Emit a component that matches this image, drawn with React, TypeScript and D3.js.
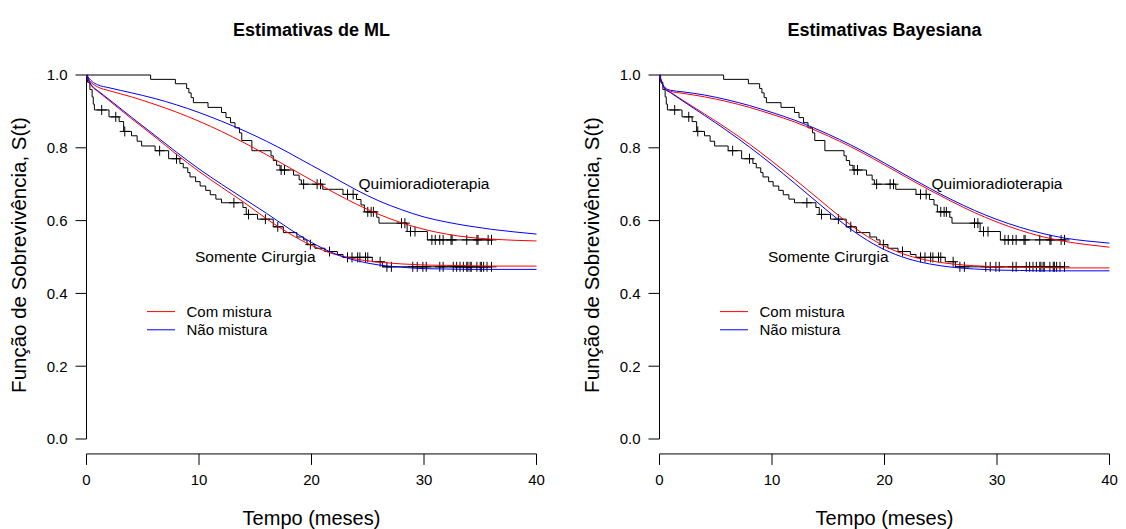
import React from "react";
import * as d3 from "d3";

const xTicks = [0, 10, 20, 30, 40];
const yTicks = [0, 0.2, 0.4, 0.6, 0.8, 1.0];
const fitTimes = [0, 0.25, 0.5, 1, 2, 4, 6, 8, 10, 12, 14, 16, 18, 20, 22, 24, 26, 28, 30, 32, 34, 36, 38, 40];

// ML fits
const mlQuimioMistura = [1, 0.985, 0.977, 0.967, 0.957, 0.94, 0.92, 0.898, 0.873, 0.845, 0.814, 0.781, 0.746, 0.711, 0.677, 0.645, 0.617, 0.594, 0.576, 0.563, 0.554, 0.549, 0.546, 0.544];
const mlQuimioNao = [1, 0.99, 0.982, 0.973, 0.965, 0.951, 0.936, 0.918, 0.897, 0.873, 0.847, 0.818, 0.786, 0.752, 0.718, 0.684, 0.654, 0.63, 0.61, 0.596, 0.585, 0.576, 0.569, 0.563];
const mlCirurgiaMistura = [1, 0.98, 0.968, 0.955, 0.93, 0.88, 0.832, 0.782, 0.735, 0.692, 0.65, 0.605, 0.565, 0.532, 0.508, 0.494, 0.486, 0.481, 0.478, 0.477, 0.476, 0.475, 0.475, 0.475];
const mlCirurgiaNao = [1, 0.982, 0.97, 0.957, 0.933, 0.884, 0.836, 0.788, 0.742, 0.7, 0.66, 0.62, 0.578, 0.54, 0.51, 0.49, 0.478, 0.472, 0.468, 0.467, 0.466, 0.466, 0.466, 0.466];

// Bayesian fits
const bayesQuimioMistura = [1, 0.975, 0.962, 0.955, 0.95, 0.94, 0.927, 0.911, 0.892, 0.871, 0.846, 0.818, 0.787, 0.753, 0.718, 0.684, 0.652, 0.622, 0.596, 0.574, 0.556, 0.543, 0.534, 0.527];
const bayesQuimioNao = [1, 0.977, 0.965, 0.958, 0.954, 0.945, 0.932, 0.916, 0.897, 0.876, 0.851, 0.823, 0.792, 0.758, 0.723, 0.689, 0.657, 0.628, 0.603, 0.582, 0.565, 0.552, 0.544, 0.538];
const bayesCirurgiaMistura = [1, 0.975, 0.962, 0.952, 0.932, 0.893, 0.853, 0.81, 0.763, 0.714, 0.663, 0.612, 0.566, 0.53, 0.505, 0.49, 0.481, 0.476, 0.473, 0.472, 0.471, 0.47, 0.47, 0.47];
const bayesCirurgiaNao = [1, 0.975, 0.962, 0.951, 0.93, 0.889, 0.847, 0.802, 0.754, 0.703, 0.651, 0.6, 0.555, 0.52, 0.496, 0.481, 0.472, 0.467, 0.464, 0.463, 0.462, 0.462, 0.462, 0.462];

// Kaplan-Meier: Quimioradioterapia
const quimioEventTimes = [5.7, 7.9, 8.9, 9.1, 9.3, 9.5, 10.8, 12.0, 12.4, 12.8, 13.2, 13.6, 13.8, 14.7, 16.4, 16.6, 16.9, 17.2, 18.4, 18.9, 19.1, 21.0, 22.8, 24.0, 24.4, 24.7, 25.8, 26.0, 28.5, 30.3];
const quimioSurv = [0.988, 0.976, 0.963, 0.951, 0.938, 0.924, 0.911, 0.897, 0.883, 0.869, 0.855, 0.841, 0.82, 0.792, 0.778, 0.765, 0.752, 0.739, 0.725, 0.712, 0.7, 0.686, 0.672, 0.658, 0.643, 0.624, 0.609, 0.593, 0.57, 0.547];
const quimioCensor = [17.3, 17.6, 19.3, 20.5, 20.8, 23.2, 23.7, 25.0, 25.3, 25.5, 28.0, 28.3, 28.8, 29.2, 30.7, 31.0, 31.4, 31.7, 32.4, 32.5, 33.8, 34.7, 34.8, 35.7, 36.0];

// Kaplan-Meier: Somente Cirurgia
const cirurgiaEventTimes = [0.1, 0.3, 0.5, 0.6, 0.7, 2.0, 2.9, 3.3, 4.0, 4.5, 4.9, 6.1, 7.3, 8.3, 8.6, 9.0, 9.2, 9.7, 10.1, 10.6, 11.0, 11.5, 12.0, 13.9, 14.2, 15.2, 16.6, 17.5, 18.7, 19.3, 19.6, 20.3, 21.2, 22.3, 22.8, 25.4, 26.3];
const cirurgiaSurv = [0.98, 0.96, 0.94, 0.92, 0.904, 0.885, 0.872, 0.845, 0.833, 0.818, 0.805, 0.792, 0.77, 0.757, 0.745, 0.732, 0.72, 0.707, 0.695, 0.683, 0.671, 0.659, 0.649, 0.636, 0.617, 0.604, 0.583, 0.567, 0.555, 0.547, 0.534, 0.524, 0.515, 0.507, 0.499, 0.487, 0.473];
const cirurgiaCensor = [1.35, 2.6, 3.4, 6.5, 8.0, 13.1, 14.4, 15.9, 17.0, 19.9, 21.6, 23.2, 23.6, 24.1, 24.3, 24.8, 25.0, 26.1, 26.7, 27.1, 29.0, 29.4, 29.9, 30.2, 31.4, 31.7, 32.6, 32.9, 33.2, 33.5, 33.8, 33.9, 34.1, 34.2, 34.7, 35.0, 35.1, 35.3, 35.6, 36.0];

const panelTitles = ["Estimativas de ML", "Estimativas Bayesiana"];
const legendLabels = ["Com mistura", "Não mistura"];
const groupLabels = ["Quimioradioterapia", "Somente Cirurgia"];

const FONT = "'Liberation Sans', Arial, Helvetica, sans-serif";
const RED = "#FF0000";
const BLUE = "#0000FF";

function stepValue(times: number[], surv: number[], t: number) {
  const i = d3.bisectRight(times, t);
  return i === 0 ? 1 : surv[i - 1];
}

function KM({ times, surv, censor, x, y }: any) {
  const last = d3.max(censor) as number;
  const pts: [number, number][] = [[0, 1], ...times.map((t: number, i: number) => [t, surv[i]] as [number, number]), [last, surv[surv.length - 1]]];
  const line = d3.line<[number, number]>().x((d) => x(d[0])).y((d) => y(d[1])).curve(d3.curveStepAfter);
  return (
    <g>
      <path d={line(pts) || ""} fill="none" stroke="#000" strokeWidth={1} />
      {censor.map((c: number, i: number) => {
        const cx = x(c);
        const cy = y(stepValue(times, surv, c));
        return (
          <path key={i} d={`M${cx - 5},${cy}H${cx + 5}M${cx},${cy - 5}V${cy + 5}`} stroke="#000" strokeWidth={1} fill="none" />
        );
      })}
    </g>
  );
}

function Panel({ left, title, fits }: any) {
  const x = d3.scaleLinear().domain([0, 40]).range([left, left + 450]);
  const y = d3.scaleLinear().domain([0, 1]).range([439, 75]);
  const axisY = y(-0.041);
  const fitLine = d3.line<number>().x((_, i) => x(fitTimes[i])).y((d) => y(d)).curve(d3.curveMonotoneX);
  const cx = (x(0) + x(40)) / 2;
  return (
    <g fontFamily={FONT}>
      <text x={cx} y={36} textAnchor="middle" fontWeight="bold" fontSize={18}>{title}</text>
      {/* y axis */}
      <line x1={x(0)} x2={x(0)} y1={y(0)} y2={y(1)} stroke="#000" />
      {yTicks.map((t) => (
        <g key={t}>
          <line x1={x(0) - 11} x2={x(0)} y1={y(t)} y2={y(t)} stroke="#000" />
          <text x={x(0) - 19} y={y(t) + 5.4} textAnchor="end" fontSize={15}>{t.toFixed(1)}</text>
        </g>
      ))}
      {/* x axis */}
      <line x1={x(0)} x2={x(40)} y1={axisY} y2={axisY} stroke="#000" />
      {xTicks.map((t) => (
        <g key={t}>
          <line x1={x(t)} x2={x(t)} y1={axisY} y2={axisY + 11} stroke="#000" />
          <text x={x(t)} y={485} textAnchor="middle" fontSize={15}>{t}</text>
        </g>
      ))}
      <text x={cx} y={525} textAnchor="middle" fontSize={20}>Tempo (meses)</text>
      <text transform={`translate(${left - 61},${(y(0) + y(1)) / 2 - 2}) rotate(-90)`} textAnchor="middle" fontSize={20.5}>Função de Sobrevivência, S(t)</text>

      <KM times={quimioEventTimes} surv={quimioSurv} censor={quimioCensor} x={x} y={y} />
      <KM times={cirurgiaEventTimes} surv={cirurgiaSurv} censor={cirurgiaCensor} x={x} y={y} />

      <path d={fitLine(fits[0]) || ""} fill="none" stroke={RED} strokeWidth={1} />
      <path d={fitLine(fits[1]) || ""} fill="none" stroke={BLUE} strokeWidth={1} />
      <path d={fitLine(fits[2]) || ""} fill="none" stroke={RED} strokeWidth={1} />
      <path d={fitLine(fits[3]) || ""} fill="none" stroke={BLUE} strokeWidth={1} />

      <text x={x(30)} y={y(0.7) + 4.5} textAnchor="middle" fontSize={15.5}>{groupLabels[0]}</text>
      <text x={x(15)} y={y(0.5) + 4.5} textAnchor="middle" fontSize={15.5}>{groupLabels[1]}</text>

      {/* legend */}
      <line x1={left + 60.5} x2={left + 88.5} y1={y(0.35)} y2={y(0.35)} stroke={RED} />
      <line x1={left + 60.5} x2={left + 88.5} y1={y(0.3)} y2={y(0.3)} stroke={BLUE} />
      <text x={left + 100} y={y(0.35) + 5.4} fontSize={15}>{legendLabels[0]}</text>
      <text x={left + 100} y={y(0.3) + 5.4} fontSize={15}>{legendLabels[1]}</text>
    </g>
  );
}

export default function App() {
  return (
    <svg width={1126} height={529} style={{ position: "absolute", left: 0, top: 0, background: "#fff" }}>
      <rect width={1126} height={529} fill="#fff" />
      <Panel left={86.5} title={panelTitles[0]} fits={[mlQuimioMistura, mlQuimioNao, mlCirurgiaMistura, mlCirurgiaNao]} />
      <Panel left={659.5} title={panelTitles[1]} fits={[bayesQuimioMistura, bayesQuimioNao, bayesCirurgiaMistura, bayesCirurgiaNao]} />
    </svg>
  );
}
